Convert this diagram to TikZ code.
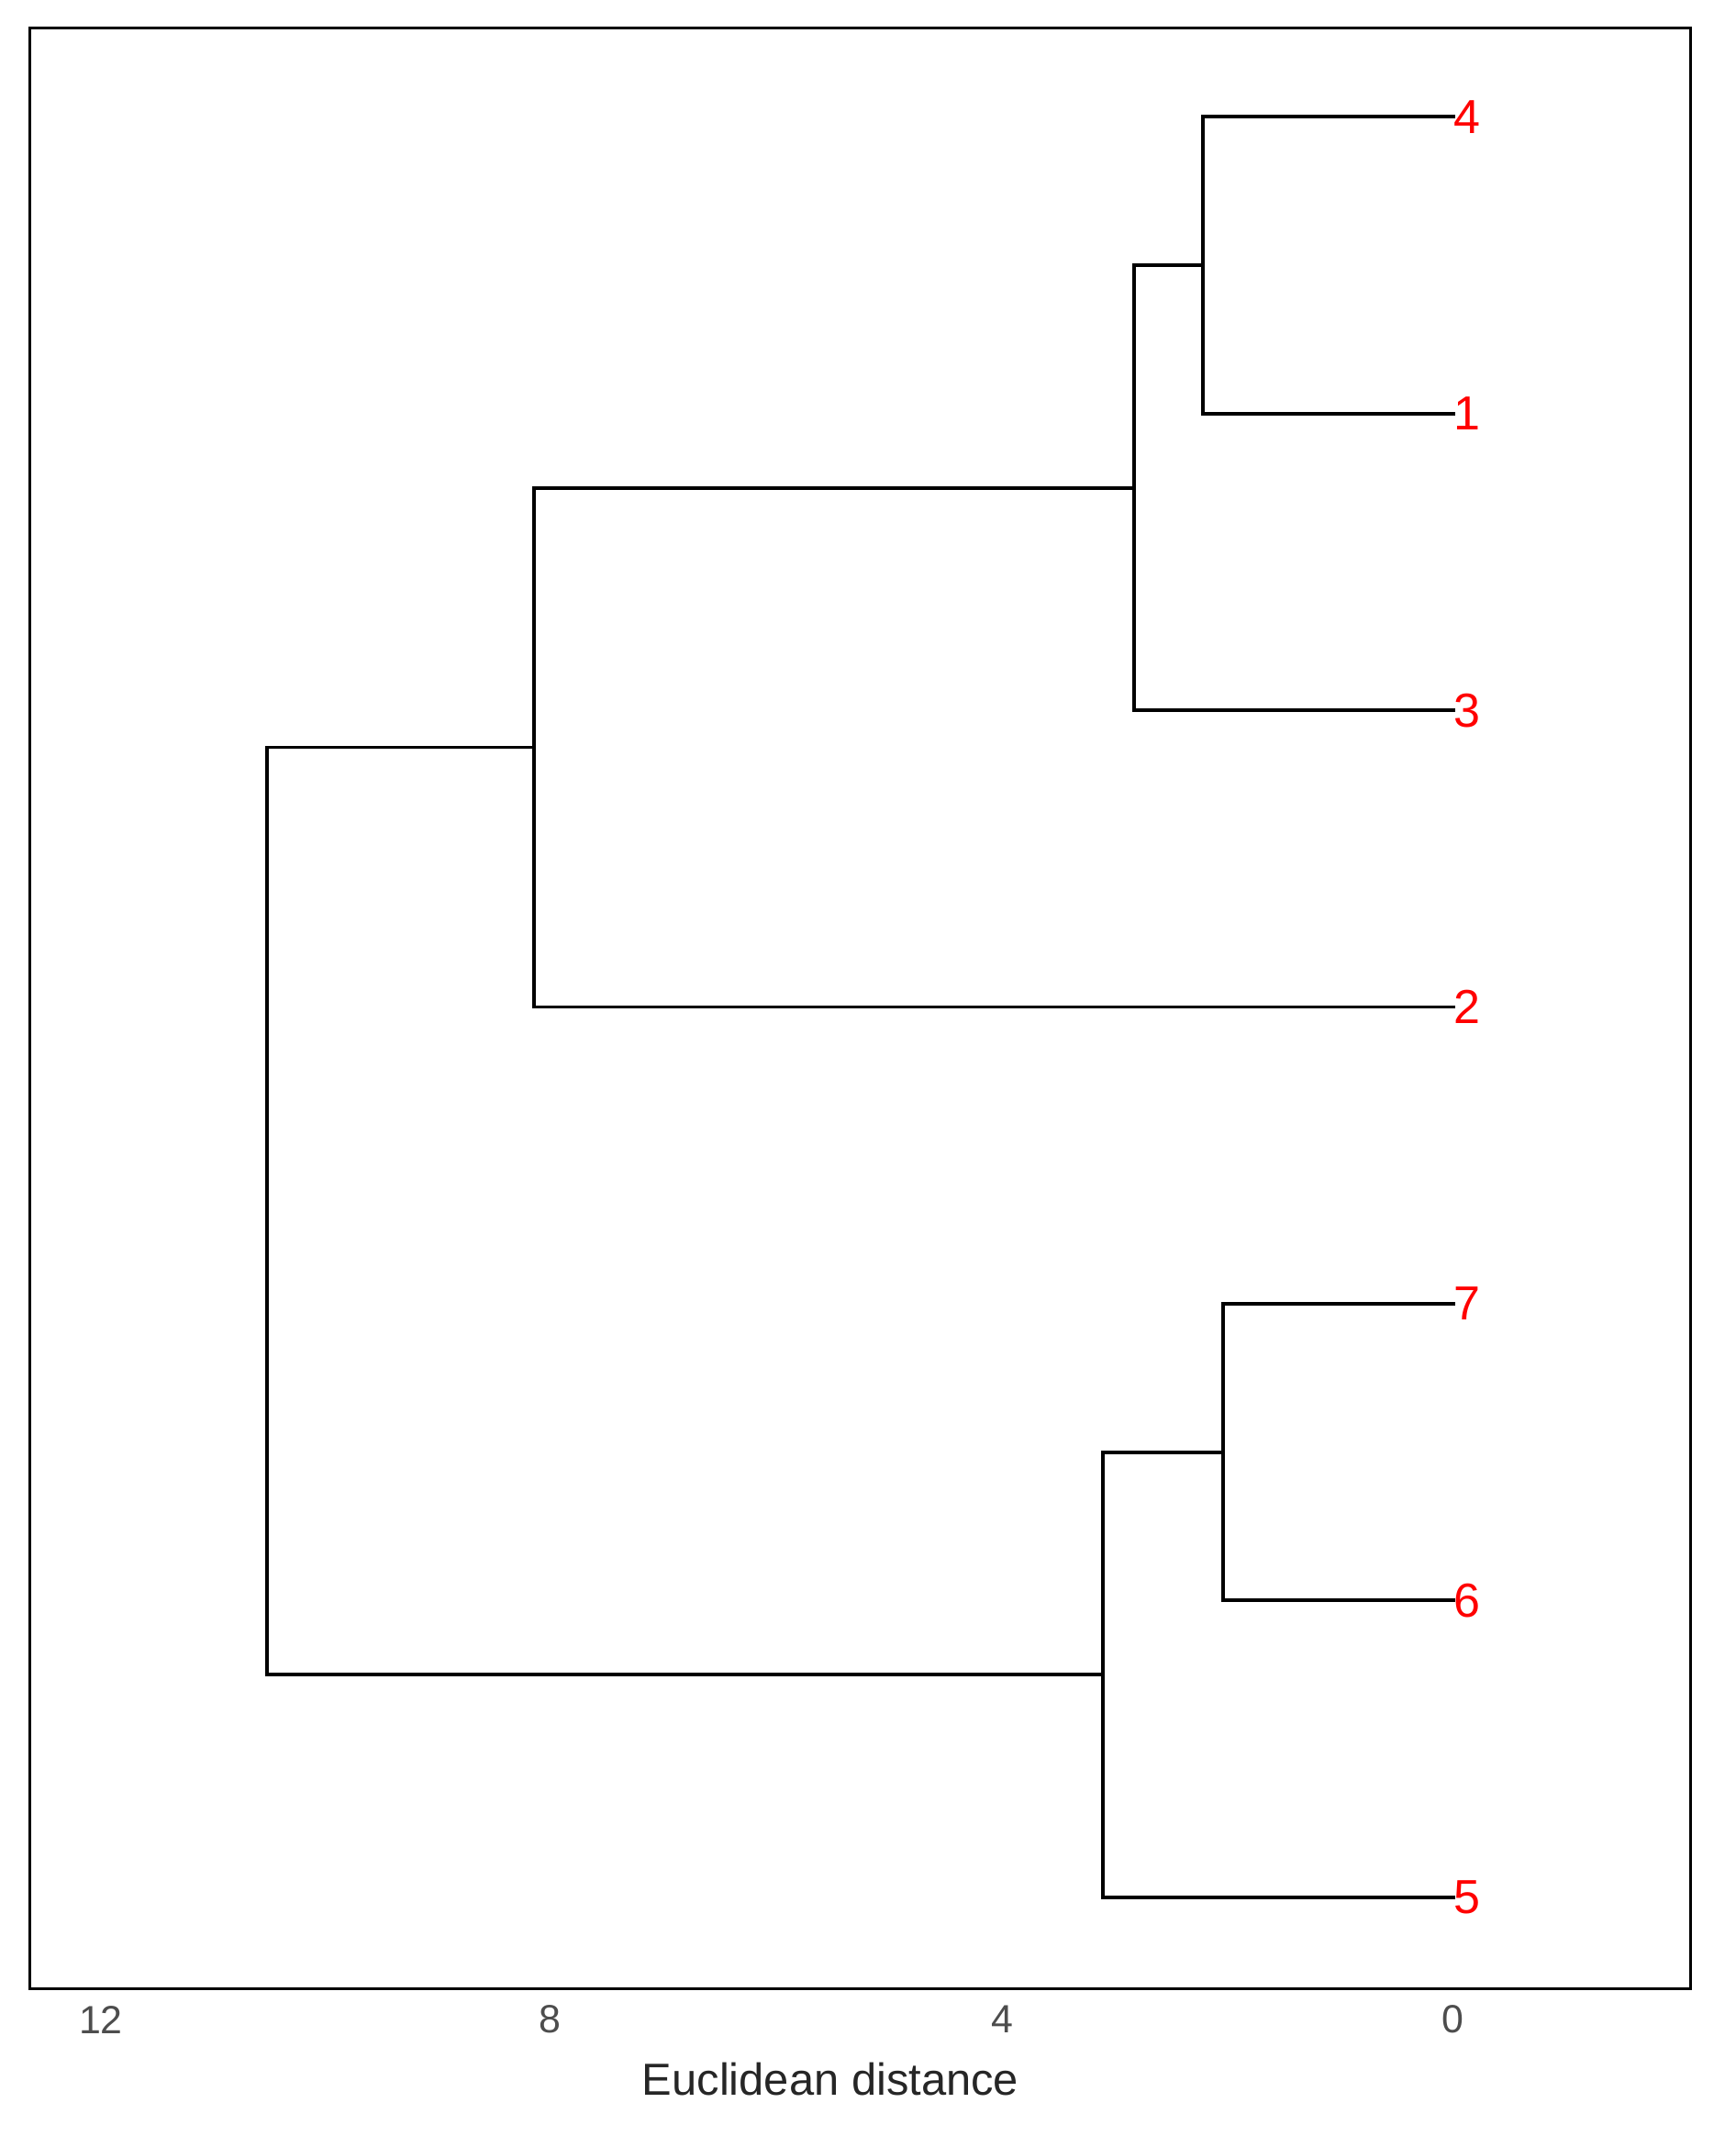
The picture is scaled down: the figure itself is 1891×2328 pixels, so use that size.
\documentclass[tikz,border=0pt]{standalone}
\usepackage{fontspec}
\setmainfont{Liberation Sans}
\definecolor{leafred}{RGB}{255,0,0}
\definecolor{tickgray}{RGB}{77,77,77}
\begin{document}
\begin{tikzpicture}[x=0.01cm,y=-0.01cm,
  branch/.style={line width=1.1pt, line cap=rect, black},
  frame/.style={line width=0.85pt, black},
  leaflab/.style={anchor=west, inner sep=0pt, text=leafred, font=\fontsize{14.8}{17}\selectfont},
  ticklab/.style={anchor=center, inner sep=0pt, text=tickgray, font=\fontsize{12.2}{14}\selectfont},
  axlab/.style={anchor=base, inner sep=0pt, text=black!85, font=\fontsize{13.9}{16}\selectfont}]
\useasboundingbox (0,0) rectangle (1891,2328);
\fill[white] (0,0) rectangle (1891,2328);
\draw[frame] (32.7,31) rectangle (1842,2167.7);
% leaves
\node[leaflab] (n4) at (1584,127.3) {4};
\node[leaflab] (n1) at (1584,450.7) {1};
\node[leaflab] (n3) at (1584,774.1) {3};
\node[leaflab] (n2) at (1584,1097.5) {2};
\node[leaflab] (n7) at (1584,1420.9) {7};
\node[leaflab] (n6) at (1584,1744.3) {6};
\node[leaflab] (n5) at (1584,2067.7) {5};
% merges
\coordinate (m41) at (1311,289);
\coordinate (m413) at (1236,531.6);
\coordinate (m4132) at (582,814.5);
\coordinate (m76) at (1332.7,1582.6);
\coordinate (m765) at (1201.7,1825.2);
\coordinate (root) at (291,1169.9);
\draw[branch] (m41) |- (n4.west);
\draw[branch] (m41) |- (n1.west);
\draw[branch] (m413) |- (m41);
\draw[branch] (m413) |- (n3.west);
\draw[branch] (m4132) |- (m413);
\draw[branch] (m4132) |- (n2.west);
\draw[branch] (m76) |- (n7.west);
\draw[branch] (m76) |- (n6.west);
\draw[branch] (m765) |- (m76);
\draw[branch] (m765) |- (n5.west);
\draw[branch] (root) |- (m4132);
\draw[branch] (root) |- (m765);
% axis
\node[ticklab] (t12) at (110,2201) {12};
\node[ticklab] (t8) at (599.7,2201) {8};
\node[ticklab] (t4) at (1092,2201) {4};
\node[ticklab] (t0) at (1583.7,2201) {0};
\node[axlab] (xt) at (905,2283) {Euclidean distance};
\end{tikzpicture}
\end{document}
